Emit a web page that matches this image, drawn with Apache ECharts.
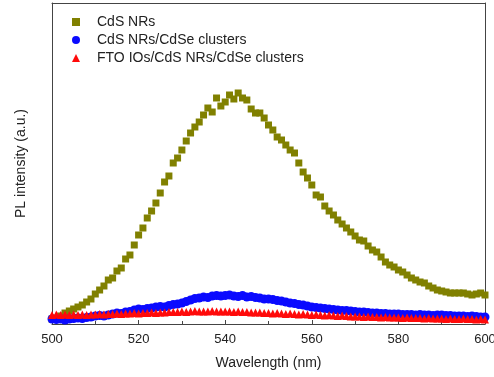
<!DOCTYPE html>
<html>
<head>
<meta charset="utf-8">
<script src="https://cdn.jsdelivr.net/npm/echarts@6/dist/echarts.min.js"></script>
<style>
  html, body { margin: 0; padding: 0; background: #fff; }
  #chart { width: 494px; height: 377px; }
</style>
</head>
<body>
<div id="chart"></div>
<script>
// Emission wavelength (nm)
const wavelengths = [
  500,501,502,503,504,505,506,507,508,509,
  510,511,512,513,514,515,516,517,518,519,
  520,521,522,523,524,525,526,527,528,529,
  530,531,532,533,534,535,536,537,538,539,
  540,541,542,543,544,545,546,547,548,549,
  550,551,552,553,554,555,556,557,558,559,
  560,561,562,563,564,565,566,567,568,569,
  570,571,572,573,574,575,576,577,578,579,
  580,581,582,583,584,585,586,587,588,589,
  590,591,592,593,594,595,596,597,598,599,
  600
];

// PL intensity (a.u.) of each sample
const cdsNRs = [
  5,6,8,11,13,15,17,19,22,25,
  30,34,38,44,46,53,56,65,69,79,
  89,96,106,113,121,131,142,148,161,166,
  174,183,191,197,202,209,216,212,226,218,
  222,229,225,231,226,224,215,211,211,206,
  199,194,187,184,179,174,171,161,152,146,
  139,129,127,118,113,109,104,100,96,92,
  88,84,83,78,74,72,67,62,59,57,
  54,52,49,46,44,42,41,38,36,34,
  33,32,31,31,31,31,30,29,30,31,
  29
];

const cdsNRsCdSe = [
  5,4.5,5,4,5,5.5,6,5.5,6.5,7,
  8,8.5,8,9,10,11,10.5,12,12.5,14,
  15,14.5,15.5,16,17,17.5,17,18.5,19.5,20,
  21,22.5,24,25.5,26,27,26.5,28,28.5,28,
  28.5,29,28,27.5,28.5,27,27.5,26.5,26,25,
  25,24.5,23.5,23,22,21,20.5,19.5,19,18,
  17,16.5,16,15.5,15,14.5,14,13.5,13.5,13,
  12.5,12,12,11.5,11,11,10.5,10.5,10,10,
  10,9.5,9.5,9.5,9,9.5,9,9,8.5,9,
  9,8.5,8.5,8,8,8,7.5,8,7.5,7,
  7
];

const ftoCdsCdSe = [
  9,9.5,9,9.5,9,9.5,9,9.5,9,9.5,
  9.5,10,9.5,10,10,10.5,10,10.5,10.5,11,
  10.5,11,11,11.5,11,11.5,11.5,12,12,12,
  12.5,12,12.5,13,12.5,12.5,12.5,13,12.5,12.5,
  12.5,12.5,12,12.5,12,12,11.5,11.5,11.5,11,
  11,10.5,11,10.5,10,10.5,10,9.5,10,9.5,
  9,9.5,9,8.5,9,8.5,8,8.5,8,7.5,
  7.5,7.5,7,7.5,7,7,6.5,7,6.5,6.5,
  6.5,6,6.5,6,6,6,5.5,6,5.5,5.5,
  5.5,5,5.5,5,5,5.5,5,5,4.5,5,
  4.5
];

const seriesNames = ['CdS NRs', 'CdS NRs/CdSe clusters', 'FTO IOs/CdS NRs/CdSe clusters'];
const xTicks = { min: 500, max: 600, step: 20 };
const yRange = { min: 0, max: 321 };

function pairs(ys) {
  return wavelengths.map((x, i) => [x, ys[i]]);
}

const FONT = 'Liberation Sans, Arial, sans-serif';
const AXIS_COLOR = '#444';
const chart = echarts.init(document.getElementById('chart'), null, { renderer: 'canvas' });

// plain frame line used for the top and right edges of the plot box
function frameAxis(position, range) {
  return {
    type: 'value', position: position, min: range.min, max: range.max,
    axisLine: { show: true, onZero: false, lineStyle: { color: AXIS_COLOR, width: 1 } },
    axisTick: { show: false },
    axisLabel: { show: false },
    splitLine: { show: false }
  };
}

chart.setOption({
  animation: false,
  backgroundColor: '#ffffff',
  grid: {
    left: 52, right: 9, top: 3, bottom: 53,
    outerBoundsMode: 'none',
    containLabel: false
  },
  legend: {
    orient: 'vertical',
    left: 67, top: 9,
    itemWidth: 8, itemHeight: 8, itemGap: 2,
    data: [
      { name: seriesNames[0], icon: 'rect' },
      { name: seriesNames[1], icon: 'circle' },
      { name: seriesNames[2], icon: 'triangle' }
    ],
    textStyle: { fontFamily: FONT, fontSize: 14, color: '#222', padding: [0, 0, 0, 12], lineHeight: 16 }
  },
  xAxis: [
    {
      type: 'value', position: 'bottom',
      min: xTicks.min, max: xTicks.max, interval: xTicks.step,
      name: 'Wavelength (nm)', nameLocation: 'middle', nameGap: 32,
      nameTextStyle: { fontFamily: FONT, fontSize: 14, color: '#222' },
      axisLine: { show: true, onZero: false, lineStyle: { color: AXIS_COLOR, width: 1 } },
      axisTick: { show: true, inside: true, length: 4, lineStyle: { color: AXIS_COLOR } },
      minorTick: { show: true, splitNumber: 2, length: 3, lineStyle: { color: AXIS_COLOR } },
      axisLabel: { fontFamily: FONT, fontSize: 13, color: '#222', margin: 9, hideOverlap: false },
      splitLine: { show: false }
    },
    frameAxis('top', xTicks)
  ],
  yAxis: [
    {
      type: 'value', position: 'left',
      min: yRange.min, max: yRange.max,
      name: 'PL intensity (a.u.)', nameLocation: 'middle', nameGap: 24,
      nameTextStyle: { fontFamily: FONT, fontSize: 14, color: '#222' },
      axisLine: { show: true, onZero: false, lineStyle: { color: AXIS_COLOR, width: 1 } },
      axisTick: { show: false },
      axisLabel: { show: false },
      splitLine: { show: false }
    },
    frameAxis('right', yRange)
  ],
  series: [
    {
      name: seriesNames[0], type: 'scatter', data: pairs(cdsNRs),
      symbol: 'rect', symbolSize: 7,
      itemStyle: { color: '#808000', opacity: 1 }
    },
    {
      name: seriesNames[1], type: 'scatter', data: pairs(cdsNRsCdSe),
      symbol: 'circle', symbolSize: 9,
      itemStyle: { color: '#0a0aff', opacity: 1 }
    },
    {
      name: seriesNames[2], type: 'scatter', data: pairs(ftoCdsCdSe),
      symbol: 'triangle', symbolSize: 8,
      itemStyle: { color: '#ff0a0a', opacity: 1 }
    }
  ]
});
</script>
</body>
</html>
